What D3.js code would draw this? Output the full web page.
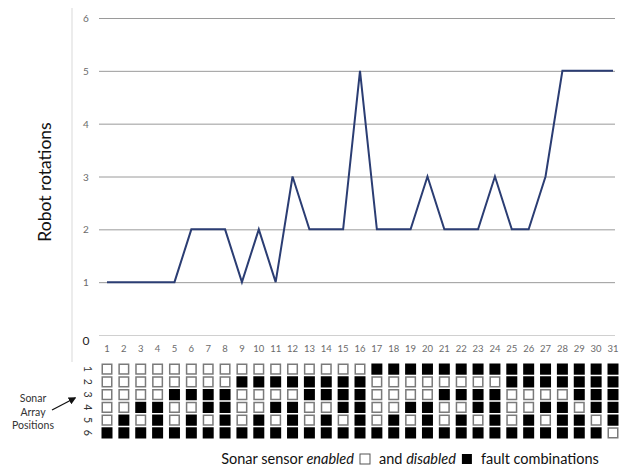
<!DOCTYPE html>
<html>
<head>
<meta charset="utf-8">
<script src="https://cdn.jsdelivr.net/npm/d3@7"></script>
<style>
  body { margin: 0; background: #fff; }
  text { font-family: Lato, 'Open Sans', sans-serif; }
</style>
</head>
<body>
<script>
let width = 621
let height = 470

// test case number on the x axis
let tests = [1, 2, 3, 4, 5, 6, 7, 8, 9, 10, 11, 12, 13, 14, 15, 16,
             17, 18, 19, 20, 21, 22, 23, 24, 25, 26, 27, 28, 29, 30, 31]
// robot rotations per test case
let rotations = [1, 1, 1, 1, 1, 2, 2, 2, 1, 2, 1, 3, 2, 2, 2, 5,
                 2, 2, 2, 3, 2, 2, 2, 3, 2, 2, 3, 5, 5, 5, 5]
let yTicks = [0, 1, 2, 3, 4, 5, 6]
let positions = [1, 2, 3, 4, 5, 6]
// sensor state per test case, position 1..6, '1' = disabled
let sensorStates = [
    '000001', '000011', '000101', '000111', '001001', '001011', '001101', '001111',
    '010001', '010011', '010101', '010111', '011001', '011011', '011101', '011111',
    '100001', '100011', '100101', '100111', '101001', '101011', '101101', '101111',
    '110001', '110011', '110101', '110111', '111011', '111101', '111110'
]

let svg = d3.select('body')
    .append('svg')
        .attr('width', width)
        .attr('height', height)

let x = d3.scalePoint()
    .domain(tests)
    .range([107, 613])

let y = d3.scaleLinear()
    .domain([0, 6])
    .range([335, 18])

// left frame line
svg.append('line')
    .attr('x1', 72).attr('x2', 72)
    .attr('y1', 8).attr('y2', 362)
    .attr('stroke', '#d9d9d9')
    .attr('stroke-width', 1)

// horizontal gridlines
svg.append('g')
    .selectAll('line')
    .data(yTicks)
    .enter()
    .append('line')
        .attr('x1', 99)
        .attr('x2', 615)
        .attr('y1', d => y(d) + 0.5)
        .attr('y2', d => y(d) + 0.5)
        .attr('stroke', d => d === 0 ? '#d0d0d0' : '#9a9a9a')
        .attr('stroke-width', 1)

// y tick labels
svg.append('g')
    .selectAll('text')
    .data(yTicks)
    .enter()
    .append('text')
        .attr('x', 86)
        .attr('y', d => d === 0 ? y(d) + 10 : y(d) + 4)
        .attr('text-anchor', 'middle')
        .attr('font-size', d => d === 0 ? 12 : 10)
        .attr('fill', d => d === 0 ? '#222' : '#6b6b6b')
        .text(d => d)

// x tick labels
svg.append('g')
    .selectAll('text')
    .data(tests)
    .enter()
    .append('text')
        .attr('x', d => x(d))
        .attr('y', 352)
        .attr('text-anchor', 'middle')
        .attr('font-size', 9.5)
        .attr('fill', '#6b6b6b')
        .text(d => d)

// y axis title
svg.append('text')
    .attr('transform', 'translate(51,182) rotate(-90)')
    .attr('text-anchor', 'middle')
    .attr('font-size', 17.5)
    .attr('fill', '#111')
    .text('Robot rotations')

// the line
let line = d3.line()
    .x((d, i) => x(tests[i]))
    .y(d => y(d))

svg.append('path')
    .datum(rotations)
    .attr('d', line)
    .attr('fill', 'none')
    .attr('stroke', '#2b3d73')
    .attr('stroke-width', 2)
    .attr('stroke-linejoin', 'miter')

// sensor grid
let row = d3.scaleBand()
    .domain(positions)
    .range([363.5, 438.5])
    .paddingInner(0.12)

let cells = []
sensorStates.forEach((s, i) => {
    positions.forEach((p, j) => {
        cells.push({ test: tests[i], pos: p, off: s[j] === '1' })
    })
})

let cw = 11
svg.append('g')
    .selectAll('rect')
    .data(cells)
    .enter()
    .append('rect')
        .attr('x', d => x(d.test) - cw / 2 + (d.off ? 0 : 0.75))
        .attr('y', d => row(d.pos) + (d.off ? 0 : 0.75))
        .attr('width', d => d.off ? cw : cw - 1.5)
        .attr('height', d => d.off ? row.bandwidth() : row.bandwidth() - 1.5)
        .attr('fill', d => d.off ? '#000' : '#fff')
        .attr('stroke', d => d.off ? 'none' : '#7a7a7a')
        .attr('stroke-width', 1.5)

// position labels (rotated digits)
svg.append('g')
    .selectAll('text')
    .data(positions)
    .enter()
    .append('text')
        .attr('transform', d => 'translate(' + 88 + ',' + (row(d) + row.bandwidth() / 2) + ') rotate(90)')
        .attr('text-anchor', 'middle')
        .attr('dy', '0.35em')
        .attr('font-size', 10.5)
        .attr('fill', '#333')
        .text(d => d)

// "Sonar Array Positions" note with arrow
svg.append('defs')
    .append('marker')
        .attr('id', 'head')
        .attr('viewBox', '0 0 10 10')
        .attr('refX', 8).attr('refY', 5)
        .attr('markerWidth', 6).attr('markerHeight', 6)
        .attr('orient', 'auto')
    .append('path')
        .attr('d', 'M0,0L10,5L0,10z')
        .attr('fill', '#111')

let note = ['Sonar', 'Array', 'Positions']
svg.append('g')
    .selectAll('text')
    .data(note)
    .enter()
    .append('text')
        .attr('x', 33)
        .attr('y', (d, i) => 402 + i * 13.5)
        .attr('text-anchor', 'middle')
        .attr('font-size', 10.5)
        .attr('fill', '#333')
        .text(d => d)

svg.append('line')
    .attr('x1', 52).attr('y1', 410)
    .attr('x2', 75).attr('y2', 398)
    .attr('stroke', '#111')
    .attr('stroke-width', 1.3)
    .attr('marker-end', 'url(#head)')

// legend line at the bottom
let legend = svg.append('g')
let parts = [
    { t: 'Sonar sensor ', it: false },
    { t: 'enabled', it: true },
    { box: 'white' },
    { t: 'and ', it: false },
    { t: 'disabled', it: true },
    { box: 'black' },
    { t: 'fault combinations', it: false }
]
let cx = 0
let baseY = 464
parts.forEach(p => {
    if (p.box) {
        cx += 6
        legend.append('rect')
            .attr('x', cx).attr('y', baseY - 10)
            .attr('width', 10).attr('height', 10)
            .attr('fill', p.box === 'white' ? '#fff' : '#000')
            .attr('stroke', p.box === 'white' ? '#555' : 'none')
            .attr('stroke-width', 1)
        cx += 10 + 9
    } else {
        let t = legend.append('text')
            .attr('x', cx).attr('y', baseY)
            .attr('font-size', 14.5)
            .attr('fill', '#111')
            .attr('font-style', p.it ? 'italic' : 'normal')
            .style('white-space', 'pre')
            .text(p.t)
        cx += t.node().getComputedTextLength()
    }
})
// centre the legend under the grid
legend.attr('transform', 'translate(' + (410 - cx / 2) + ',0)')
</script>
</body>
</html>
